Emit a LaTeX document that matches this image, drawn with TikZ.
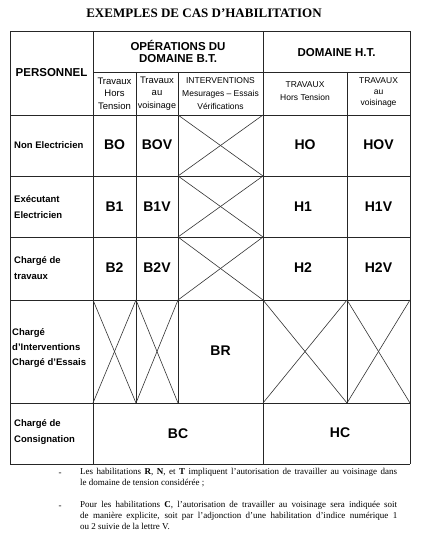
\documentclass[tikz,border=0pt]{standalone}
\usepackage{fontspec}
\setmainfont{Liberation Serif}
\newfontfamily\hv[Ligatures=TeX]{Liberation Sans}
\begin{document}
\begin{tikzpicture}[x=1pt,y=-1pt,
  grid/.style={line width=0.9pt, black!85},
  xline/.style={line width=0.6pt, black!80},
  code/.style={font=\hv\bfseries\fontsize{14}{16}\selectfont, inner sep=0pt},
  rowlab/.style={anchor=west, align=left, inner sep=0pt, font=\hv\bfseries\fontsize{9.5}{15.5}\selectfont},
  bighead/.style={align=center, inner sep=0pt, font=\hv\bfseries\fontsize{11.5}{12.5}\selectfont},
  subhead/.style={align=center, inner sep=0pt, font=\hv\fontsize{9.5}{12.5}\selectfont},
  smallhead/.style={align=center, inner sep=0pt, font=\hv\fontsize{8.5}{12.5}\selectfont},
  note/.style={anchor=north west, inner sep=0pt, text width=317pt, align=justify, font=\fontsize{9}{11}\selectfont},
  dashmark/.style={inner sep=0pt, font=\fontsize{9}{11}\selectfont}
]
\useasboundingbox (0,0) rectangle (421,540);
\fill[white] (0,0) rectangle (421,540);

% title
\node[font=\bfseries\fontsize{13}{15}\selectfont, inner sep=0pt] (title) at (204,13) {EXEMPLES DE CAS D'HABILITATION};

% grid: horizontal lines
\draw[grid] (10,31.5) -- (410,31.5);
\draw[grid] (93,72) -- (410,72);
\foreach \y in {115,176,237,300,403} \draw[grid] (10,\y) -- (410,\y);
\draw[grid] (10,464) -- (410,464);
% vertical lines
\foreach \x in {10,93,263,410} \draw[grid] (\x,31.5) -- (\x,464);
\foreach \x in {136,178,347} \draw[grid] (\x,72) -- (\x,403);

% crosses
\foreach \ya/\yb in {115/176,176/237,237/300} {
  \draw[xline] (178,\ya) -- (263,\yb);
  \draw[xline] (178,\yb) -- (263,\ya);
}
\foreach \xa/\xb in {93/136,136/178,263/347,347/410} {
  \draw[xline] (\xa,300) -- (\xb,403);
  \draw[xline] (\xa,403) -- (\xb,300);
}

% header
\node[inner sep=0pt, font=\hv\bfseries\fontsize{11.5}{13}\selectfont] (pers) at (51.5,73) {PERSONNEL};
\node[bighead] (opbt) at (178,51.5) {OPÉRATIONS DU\\DOMAINE B.T.};
\node[bighead] (domht) at (336.5,53) {DOMAINE H.T.};
\node[subhead] (h1) at (114.5,93.5) {Travaux\\Hors\\Tension};
\node[subhead] (h2) at (157,93.5) {Travaux\\au\\{\fontsize{9}{12.5}\selectfont voisinage}};
\node[smallhead, font=\hv\fontsize{8.5}{13}\selectfont] (h3) at (220.5,93.5) {INTERVENTIONS\\Mesurages – Essais\\Vérifications};
\node[smallhead, font=\hv\fontsize{8.5}{13}\selectfont] (h4) at (305,91.5) {TRAVAUX\\Hors Tension};
\node[smallhead, font=\hv\fontsize{8.5}{11}\selectfont] (h5) at (378.5,92.5) {TRAVAUX\\au\\voisinage};

% row labels
\node[rowlab] (r1) at (14,145) {Non Electricien};
\node[rowlab] (r2) at (14,207) {Exécutant\\Electricien};
\node[rowlab] (r3) at (14,268) {Chargé de\\travaux};
\node[rowlab, font=\hv\bfseries\fontsize{9.5}{15}\selectfont] (r4) at (12,348) {Chargé\\d'Interventions\\Chargé d'Essais};
\node[rowlab] (r5) at (14,432) {Chargé de\\Consignation};

% codes
\node[code] (bo) at (114.5,145) {BO};
\node[code] (bov) at (157,145) {BOV};
\node[code] (ho) at (305,145) {HO};
\node[code] (hov) at (378.5,145) {HOV};
\node[code] (b1) at (114.5,206.5) {B1};
\node[code] (b1v) at (157,206.5) {B1V};
\node[code] (hh1) at (303,206.5) {H1};
\node[code] (h1v) at (378.5,206.5) {H1V};
\node[code] (b2) at (114.5,268) {B2};
\node[code] (b2v) at (157,268) {B2V};
\node[code] (hh2) at (303,268) {H2};
\node[code] (h2v) at (378.5,268) {H2V};
\node[code] (br) at (220.5,351) {BR};
\node[code] (bc) at (178,434) {BC};
\node[code] (hc) at (340,433) {HC};

% notes
\node[dashmark] (d1) at (60,474) {-};
\node[dashmark] (d2) at (60,507) {-};
\node[note] (n1) at (80,468.5) {Les habilitations \textbf{R}, \textbf{N}, et \textbf{T} impliquent l'autorisation de travailler au voisinage dans\linebreak le domaine de tension considérée ;};
\node[note] (n2) at (80,501.5) {Pour les habilitations \textbf{C}, l'autorisation de travailler au voisinage sera indiquée soit\linebreak de manière explicite, soit par l'adjonction d'une habilitation d'indice numérique 1\linebreak ou 2 suivie de la lettre V.};
\end{tikzpicture}
\end{document}
